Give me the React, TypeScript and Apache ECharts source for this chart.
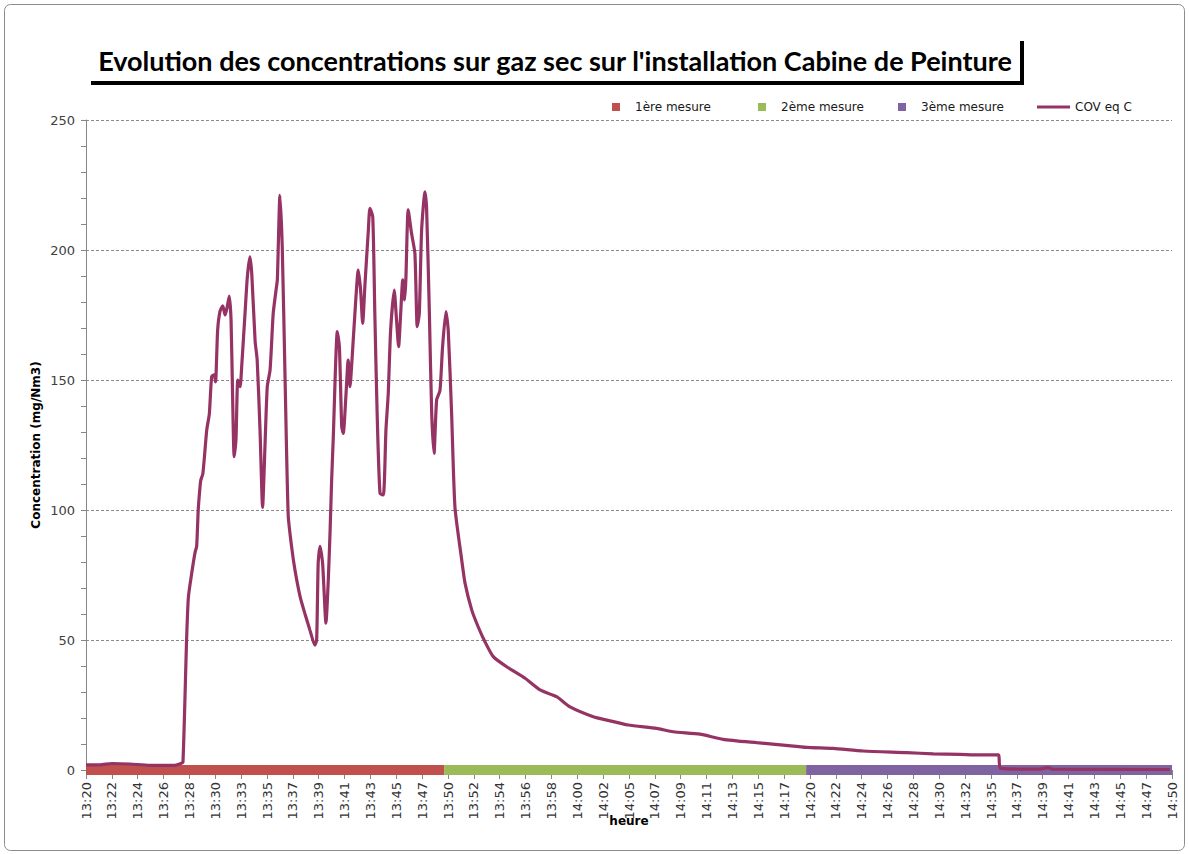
import React, { useEffect, useRef } from "react";
import * as echarts from "echarts";

const titleText = "Evolution des concentrations sur gaz sec sur l'installation Cabine de Peinture";

const tickLabels = [
  "13:20", "13:22", "13:24", "13:26", "13:28", "13:30", "13:33", "13:35", "13:37", "13:39",
  "13:41", "13:43", "13:45", "13:47", "13:50", "13:52", "13:54", "13:56", "13:58", "14:00",
  "14:02", "14:05", "14:07", "14:09", "14:11", "14:13", "14:15", "14:17", "14:20", "14:22",
  "14:24", "14:26", "14:28", "14:30", "14:32", "14:35", "14:37", "14:39", "14:41", "14:43",
  "14:45", "14:47", "14:50",
];

const phaseNames = ["1ère mesure", "2ème mesure", "3ème mesure"];
const phaseStart = [0, 13.85, 27.85];
const phaseEnd = [13.85, 27.85, 42];
const phaseColors = ["#C0504D", "#9BBB59", "#8064A2"];

const covName = "COV eq C";
// [position on the time axis (tick index), concentration mg/Nm3]
const covPoints: [number, number][] = [
  [0, 2], [0.54, 2], [1.0, 2.5], [1.7, 2.3], [2.47, 1.8], [3.44, 1.8], [3.67, 2.5], [3.75, 3],
  [3.89, 50], [3.96, 66.5], [4.09, 75.8], [4.22, 83.8], [4.28, 86], [4.34, 100], [4.41, 109],
  [4.44, 111.5], [4.52, 114], [4.67, 130.8], [4.77, 137], [4.86, 151.3], [4.96, 152], [5.01, 149.3],
  [5.09, 169], [5.18, 176.3], [5.29, 178.5], [5.38, 175], [5.46, 178], [5.54, 182.3], [5.61, 173],
  [5.67, 143.6], [5.73, 120.5], [5.8, 127], [5.87, 150], [5.96, 147.4], [6.02, 155], [6.15, 175.6],
  [6.24, 189.7], [6.34, 197.4], [6.41, 191], [6.54, 165], [6.62, 157.7], [6.73, 130.8], [6.83, 101],
  [6.92, 124], [7.01, 147.4], [7.12, 154], [7.24, 175.6], [7.35, 184.6], [7.4, 188.5], [7.5, 221],
  [7.59, 201], [7.7, 150], [7.82, 98], [7.95, 86], [8.08, 77], [8.28, 66.7], [8.47, 60], [8.66, 53.8],
  [8.85, 48], [8.92, 50], [8.98, 79.6], [9.05, 86], [9.15, 79.6], [9.28, 56.5], [9.37, 73], [9.44, 92],
  [9.5, 111.5], [9.56, 127], [9.72, 168.6], [9.8, 162.8], [9.89, 132], [9.95, 129.5], [10.05, 143.6],
  [10.14, 157.7], [10.21, 147.4], [10.27, 155], [10.4, 175.6], [10.53, 192.3], [10.62, 184.6],
  [10.7, 171.8], [10.79, 187], [10.92, 207.7], [10.98, 216], [11.09, 212.8], [11.17, 175.6],
  [11.26, 137], [11.37, 106.4], [11.5, 105.8], [11.6, 130.8], [11.69, 145], [11.78, 169],
  [11.92, 184.6], [12.01, 173], [12.09, 162.8], [12.17, 175.6], [12.25, 188.5], [12.32, 180.8],
  [12.37, 188.5], [12.46, 215.4], [12.59, 206.4], [12.72, 198.7], [12.81, 170.5], [12.89, 175.6],
  [12.98, 207.7], [13.11, 222.4], [13.17, 216.7], [13.28, 175.6], [13.37, 137], [13.46, 121.8],
  [13.56, 142.3], [13.69, 146], [13.79, 162.8], [13.92, 176.3], [14.01, 169], [14.14, 137],
  [14.27, 101], [14.53, 80.8], [14.66, 71.8], [14.92, 61.5], [15.17, 55], [15.43, 49.3],
  [15.75, 43.6], [16.27, 39.7], [16.98, 35.3], [17.56, 30.8], [18.2, 28.2], [18.72, 24.3],
  [19.62, 20.5], [20.14, 19.2], [20.97, 17.3], [22.07, 16], [22.71, 14.7], [23.74, 13.8],
  [24.64, 11.8], [25.94, 10.5], [26.96, 9.6], [27.87, 8.7], [28.9, 8.3], [30.06, 7.3],
  [31.74, 6.7], [32.77, 6.2], [33.8, 6], [34.57, 5.8], [35.28, 5.8], [35.37, 0.6], [36.89, 0.3],
  [37.21, 0.9], [37.39, 0.3], [41.92, 0.2],
];

const yMax = 250;
const yStep = 50;

export default function App() {
  const ref = useRef<HTMLDivElement>(null);

  useEffect(() => {
    if (!ref.current) return;
    const chart = echarts.init(ref.current, undefined, { renderer: "svg" });
    const font = "DejaVu Sans";

    const legendCommon = {
      top: 96,
      itemGap: 0,
      selectedMode: false,
      textStyle: { fontFamily: font, fontSize: 12, color: "#1a1a1a" },
    };
    const squareLegendX = [607, 753, 893];

    const option: any = {
      animation: false,
      backgroundColor: "#ffffff",
      grid: { left: 86, right: 17, top: 120, bottom: 84, outerBoundsMode: "none" },
      legend: [
        ...phaseNames.map((n, i) => ({
          ...legendCommon,
          data: [n],
          left: squareLegendX[i],
          icon: "rect",
          itemWidth: 8,
          itemHeight: 8,
          textStyle: { ...legendCommon.textStyle, padding: [0, 0, 0, 10] },
        })),
        {
          ...legendCommon,
          data: [covName],
          left: 1032,
          icon: "rect",
          itemWidth: 33,
          itemHeight: 3,
        },
      ],
      xAxis: {
        type: "value",
        min: 0,
        max: tickLabels.length - 1,
        interval: 1,
        name: "heure",
        nameLocation: "middle",
        nameGap: 45,
        nameMoveOverlap: false,
        nameTextStyle: { fontFamily: font, fontWeight: "bold", fontSize: 12, color: "#000" },
        axisLine: { show: true, lineStyle: { color: "#868686" } },
        axisTick: { show: true, length: 9, lineStyle: { color: "#868686" } },
        splitLine: { show: false },
        axisLabel: {
          rotate: 90,
          margin: 12,
          fontFamily: font,
          fontSize: 13,
          color: "#333",
          showMinLabel: true,
          showMaxLabel: true,
          formatter: (v: number) => tickLabels[Math.round(v)] ?? "",
        },
      },
      yAxis: {
        type: "value",
        min: 0,
        max: yMax,
        interval: yStep,
        name: "Concentration (mg/Nm3)",
        nameLocation: "middle",
        nameRotate: 90,
        nameGap: 44,
        nameMoveOverlap: false,
        nameTextStyle: { fontFamily: font, fontWeight: "bold", fontSize: 12, color: "#000" },
        axisLine: { show: true, lineStyle: { color: "#868686" } },
        axisTick: { show: true, length: 5, lineStyle: { color: "#868686" } },
        minorTick: { show: true, splitNumber: 5, length: 5, lineStyle: { color: "#868686" } },
        splitLine: { show: true, lineStyle: { color: "#8a8a8a", type: [3, 2], width: 1 } },
        axisLabel: { margin: 11, fontFamily: font, fontSize: 13, color: "#404040" },
      },
      graphic: [
        {
          type: "rect",
          silent: true,
          shape: { x: 4.5, y: 4.5, width: 1180, height: 846, r: 6 },
          style: { fill: "none", stroke: "#8c8c8c", lineWidth: 1 },
        },
        {
          type: "rect",
          silent: true,
          shape: { x: 91, y: 41, width: 933, height: 44 },
          style: { fill: "#000" },
        },
        {
          type: "rect",
          silent: true,
          shape: { x: 87, y: 37, width: 933, height: 44 },
          style: { fill: "#fff" },
        },
        {
          type: "text",
          silent: true,
          x: 555,
          y: 60,
          style: {
            text: titleText,
            font: 'bold 27px "Lato", sans-serif',
            fill: "#000",
            align: "center",
            verticalAlign: "middle",
          },
        },
      ],
      series: [
        ...phaseNames.map((n, i) => ({
          name: n,
          type: "line",
          data: [
            [phaseStart[i], 0],
            [phaseEnd[i], 0],
          ],
          symbol: "none",
          clip: false,
          z: 2,
          lineStyle: { width: 10, color: phaseColors[i], cap: "butt" },
          itemStyle: { color: phaseColors[i] },
        })),
        {
          name: covName,
          type: "line",
          data: covPoints,
          symbol: "none",
          smooth: 0.2,
          z: 3,
          lineStyle: { width: 3.2, color: "#953365" },
          itemStyle: { color: "#953365" },
        },
      ],
    };

    chart.setOption(option);
    return () => chart.dispose();
  }, []);

  return (
    <div
      ref={ref}
      style={{ position: "absolute", left: 0, top: 0, width: 1189, height: 854, background: "#fff" }}
    />
  );
}
